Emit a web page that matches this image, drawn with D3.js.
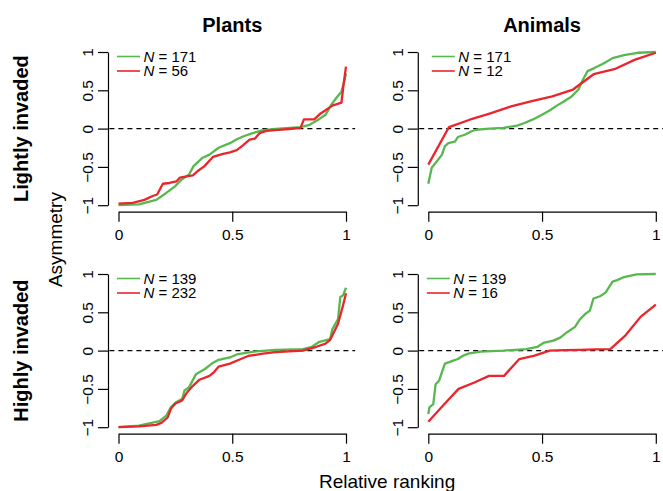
<!DOCTYPE html>
<html lang="en">
  <head>
    <meta charset="UTF-8" />
    <title>Asymmetry by relative ranking</title>
    <style>
      body {
        margin: 0;
        background: #fff;
      }

      svg {
        font-family: "Liberation Sans", Arial, sans-serif;
      }
    </style>
  </head>
  <body>
    <div id="viz"></div>
    <script src="https://cdnjs.cloudflare.com/ajax/libs/d3/7.8.5/d3.min.js"></script>
    <script>
      let columns = ["Plants", "Animals"];
      let rows = ["Lightly invaded", "Highly invaded"];
      let xTicks = [0, 0.5, 1];
      let xTickLabels = ["0", "0.5", "1"];
      let yTicks = [-1, -0.5, 0, 0.5, 1];
      let yTickLabels = ["\u22121", "\u22120.5", "0", "0.5", "1"];

      // sample sizes, [green, red]
      let plantsLightN = [171, 56];
      let animalsLightN = [171, 12];
      let plantsHighN = [139, 232];
      let animalsHighN = [139, 16];

      // [relative ranking, asymmetry]
      let plantsLightGreen = [
        [0, -1.0], [0.09, -0.99], [0.166, -0.93], [0.21, -0.84], [0.25, -0.75],
        [0.276, -0.67], [0.31, -0.6], [0.33, -0.49], [0.37, -0.38], [0.4, -0.34],
        [0.44, -0.25], [0.49, -0.19], [0.52, -0.14], [0.55, -0.1], [0.59, -0.06],
        [0.635, -0.02], [0.69, -0.005], [0.8, 0.02], [0.84, 0.05], [0.88, 0.12],
        [0.91, 0.18], [0.935, 0.31], [0.957, 0.4], [0.98, 0.48], [0.994, 0.64],
        [1.0, 0.72]
      ];
      let plantsLightRed = [
        [0, -0.98], [0.063, -0.97], [0.114, -0.93], [0.15, -0.88], [0.17, -0.86],
        [0.195, -0.72], [0.224, -0.71], [0.254, -0.69], [0.27, -0.64], [0.305, -0.62],
        [0.327, -0.61], [0.35, -0.55], [0.378, -0.49], [0.415, -0.37], [0.46, -0.33],
        [0.49, -0.31], [0.52, -0.28], [0.547, -0.22], [0.576, -0.145], [0.6, -0.13],
        [0.62, -0.06], [0.65, -0.03], [0.69, -0.02], [0.75, -0.005], [0.8, 0.01],
        [0.815, 0.12], [0.86, 0.12], [0.885, 0.19], [0.91, 0.24], [0.94, 0.3],
        [0.98, 0.34], [0.99, 0.59], [1.0, 0.81]
      ];
      let animalsLightGreen = [
        [0, -0.72], [0.015, -0.51], [0.037, -0.43], [0.06, -0.34], [0.073, -0.23],
        [0.088, -0.19], [0.117, -0.17], [0.13, -0.11], [0.16, -0.08], [0.19, -0.035],
        [0.21, -0.015], [0.27, 0], [0.33, 0.01], [0.39, 0.04], [0.42, 0.07],
        [0.46, 0.12], [0.5, 0.18], [0.535, 0.24], [0.565, 0.3], [0.594, 0.35],
        [0.63, 0.42], [0.66, 0.51], [0.68, 0.64], [0.7, 0.75], [0.73, 0.79],
        [0.77, 0.85], [0.81, 0.92], [0.86, 0.96], [0.92, 0.99], [1.0, 1.0]
      ];
      let animalsLightRed = [
        [0, -0.47], [0.091, 0.02], [0.182, 0.116], [0.273, 0.2], [0.364, 0.29],
        [0.455, 0.36], [0.545, 0.42], [0.636, 0.51], [0.727, 0.71], [0.818, 0.775],
        [0.909, 0.9], [1.0, 0.99]
      ];
      let plantsHighGreen = [
        [0, -1.0], [0.09, -0.98], [0.15, -0.94], [0.18, -0.92], [0.21, -0.85],
        [0.23, -0.74], [0.25, -0.68], [0.28, -0.63], [0.29, -0.52], [0.31, -0.48],
        [0.34, -0.31], [0.38, -0.24], [0.41, -0.17], [0.44, -0.12], [0.49, -0.09],
        [0.52, -0.05], [0.56, -0.03], [0.605, -0.01], [0.69, 0.01], [0.81, 0.02],
        [0.85, 0.05], [0.88, 0.11], [0.93, 0.15], [0.94, 0.28], [0.965, 0.41],
        [0.975, 0.7], [0.987, 0.72], [1.0, 0.82]
      ];
      let plantsHighRed = [
        [0, -1.0], [0.09, -0.99], [0.166, -0.97], [0.19, -0.94], [0.217, -0.87],
        [0.23, -0.76], [0.25, -0.69], [0.28, -0.65], [0.3, -0.55], [0.327, -0.46],
        [0.356, -0.38], [0.4, -0.33], [0.42, -0.28], [0.44, -0.21], [0.49, -0.17],
        [0.53, -0.12], [0.57, -0.07], [0.635, -0.04], [0.69, -0.02], [0.81, 0],
        [0.87, 0.05], [0.91, 0.09], [0.93, 0.14], [0.95, 0.26], [0.965, 0.35],
        [0.987, 0.59], [1.0, 0.75]
      ];
      let animalsHighGreen = [
        [0, -0.83], [0.005, -0.74], [0.022, -0.7], [0.032, -0.44], [0.048, -0.39],
        [0.06, -0.28], [0.073, -0.17], [0.11, -0.13], [0.13, -0.11], [0.154, -0.065],
        [0.18, -0.035], [0.23, -0.013], [0.33, 0], [0.43, 0.02], [0.48, 0.05],
        [0.506, 0.1], [0.55, 0.13], [0.58, 0.17], [0.61, 0.24], [0.645, 0.31],
        [0.667, 0.41], [0.69, 0.48], [0.71, 0.52], [0.726, 0.68], [0.755, 0.71],
        [0.78, 0.76], [0.81, 0.9], [0.83, 0.92], [0.86, 0.96], [0.916, 0.995],
        [1.0, 1.0]
      ];
      let animalsHighRed = [
        [0, -0.93], [0.067, -0.71], [0.133, -0.5], [0.2, -0.42], [0.267, -0.33],
        [0.333, -0.33], [0.4, -0.11], [0.467, -0.065], [0.533, 0], [0.6, 0.005],
        [0.667, 0.01], [0.733, 0.015], [0.8, 0.02], [0.867, 0.2], [0.933, 0.44],
        [1.0, 0.6]
      ];

      let green = "#57b84f",
          red = "#e8262b";

      let width = 663,
          height = 491,
          colLeft = [118.5, 428.3],
          colWidth = 227.5,
          rowTop = [52, 274],
          rowHeight = 153.2,
          tick = 10;

      let panels = [
        { col: 0, row: 0, n: plantsLightN, lines: [plantsLightGreen, plantsLightRed], legendShift: -1.5 },
        { col: 1, row: 0, n: animalsLightN, lines: [animalsLightGreen, animalsLightRed], legendShift: 3.5 },
        { col: 0, row: 1, n: plantsHighN, lines: [plantsHighGreen, plantsHighRed], legendShift: -1.5 },
        { col: 1, row: 1, n: animalsHighN, lines: [animalsHighGreen, animalsHighRed], legendShift: -1.5 }
      ];

      let svg = d3.select("#viz")
        .append("svg")
        .attr("width", width)
        .attr("height", height);

      panels.forEach(p => drawPanel(p));

      // column titles
      svg.selectAll(".col-title")
        .data(columns)
        .join("text")
        .attr("class", "col-title")
        .attr("x", (d, i) => colLeft[i] + colWidth / 2)
        .attr("y", 31.5)
        .attr("text-anchor", "middle")
        .style("font-size", "20px")
        .style("font-weight", "bold")
        .text(d => d);

      // row titles
      svg.selectAll(".row-title")
        .data(rows)
        .join("text")
        .attr("class", "row-title")
        .attr("transform", (d, i) => `translate(28, ${rowTop[i] + rowHeight / 2}) rotate(-90)`)
        .attr("text-anchor", "middle")
        .style("font-size", "20px")
        .style("font-weight", "bold")
        .text(d => d);

      svg.append("text")
        .attr("transform", `translate(62, ${(rowTop[0] + rowTop[1] + rowHeight) / 2}) rotate(-90)`)
        .attr("text-anchor", "middle")
        .style("font-size", "19px")
        .text("Asymmetry");

      svg.append("text")
        .attr("x", (colLeft[0] + colLeft[1] + colWidth) / 2)
        .attr("y", 488)
        .attr("text-anchor", "middle")
        .style("font-size", "19px")
        .text("Relative ranking");

      function drawPanel(p) {
        let x = d3.scaleLinear()
          .domain([0, 1])
          .range([colLeft[p.col], colLeft[p.col] + colWidth]);

        let y = d3.scaleLinear()
          .domain([-1, 1])
          .range([rowTop[p.row] + rowHeight, rowTop[p.row]]);

        let g = svg.append("g");

        // zero reference line across the plot region
        g.append("line")
          .attr("x1", x(-0.04))
          .attr("x2", x(1.04))
          .attr("y1", y(0))
          .attr("y2", y(0))
          .attr("stroke", "#000")
          .attr("stroke-width", 1.2)
          .attr("stroke-dasharray", "5,4");

        let xAxis = g.append("g")
          .attr("transform", `translate(0, ${y(-1) + 6.5})`)
          .call(d3.axisBottom(x)
            .tickValues(xTicks)
            .tickFormat((d, i) => xTickLabels[i])
            .tickSize(tick)
            .tickSizeOuter(0)
            .tickPadding(7));

        let yAxis = g.append("g")
          .attr("transform", `translate(${x(0) - 10.5}, 0)`)
          .call(d3.axisLeft(y)
            .tickValues(yTicks)
            .tickFormat((d, i) => yTickLabels[i])
            .tickSize(tick)
            .tickSizeOuter(0));

        yAxis.selectAll(".tick text")
          .attr("transform", "rotate(-90)")
          .attr("x", 0)
          .attr("y", -15)
          .attr("dy", 0)
          .attr("text-anchor", "middle");

        [xAxis, yAxis].forEach(a => {
          a.selectAll("path, line").attr("stroke", "#000").attr("stroke-width", 1.2);
          a.selectAll("text")
            .style("font-size", "15.5px")
            .style("font-family", "'Liberation Sans', Arial, sans-serif")
            .attr("fill", "#000");
        });

        let line = d3.line()
          .x(d => x(d[0]))
          .y(d => y(d[1]));

        g.selectAll(".curve")
          .data(p.lines)
          .join("path")
          .attr("class", "curve")
          .attr("d", line)
          .attr("fill", "none")
          .attr("stroke", (d, i) => i === 0 ? green : red)
          .attr("stroke-width", 2.3)
          .attr("stroke-linejoin", "round");

        // legend
        let lx = x(0) + p.legendShift;
        let legend = g.selectAll(".legend")
          .data(p.n)
          .join("g")
          .attr("class", "legend")
          .attr("transform", (d, i) => `translate(${lx}, ${y(1) + 4.5 + i * 14.5})`);

        legend.append("line")
          .attr("x1", 0)
          .attr("x2", 23)
          .attr("stroke", (d, i) => i === 0 ? green : red)
          .attr("stroke-width", 1.6);

        let lt = legend.append("text")
          .attr("x", 26.5)
          .attr("dy", "0.36em")
          .style("font-size", "15px");

        lt.append("tspan")
          .style("font-style", "italic")
          .text("N");
        lt.append("tspan")
          .text(d => ` = ${d}`);
      }
    </script>
  </body>
</html>
